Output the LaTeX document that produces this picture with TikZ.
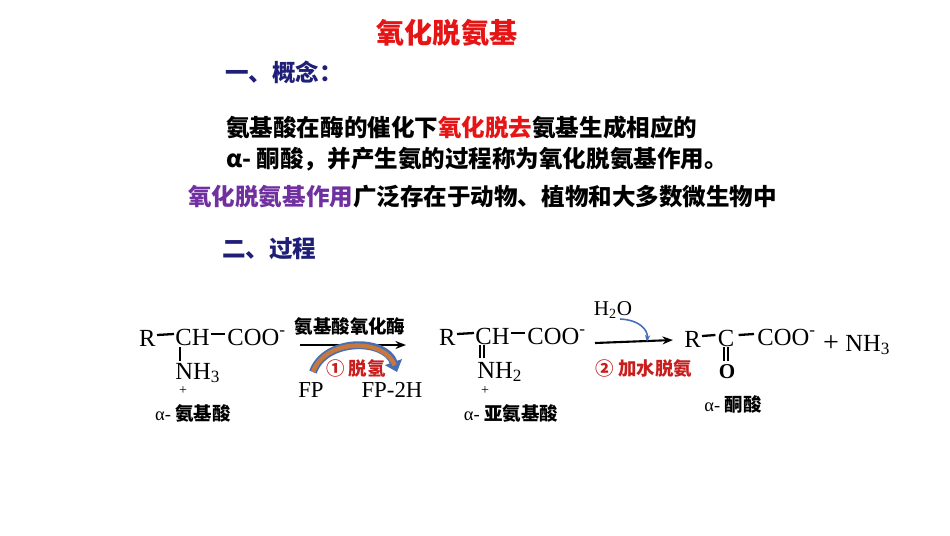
\documentclass[tikz,border=0pt]{standalone}
\usepackage{fontspec}
\setmainfont{Liberation Serif}
\newfontfamily\cjk{Noto Sans CJK SC}
\usetikzlibrary{calc,arrows.meta}
\definecolor{navy}{RGB}{31,31,120}
\definecolor{hired}{RGB}{230,20,20}
\definecolor{dred}{RGB}{200,30,30}
\definecolor{purp}{RGB}{112,48,160}
\definecolor{curvblue}{RGB}{70,110,180}
\definecolor{curvorange}{RGB}{200,120,60}
\tikzset{chem/.style={font=\fontsize{14}{15}\selectfont,inner sep=0pt},
  line/.style={font=\cjk\fontsize{13.4}{15}\selectfont\bfseries,anchor=west,inner sep=0pt},
  lab/.style={font=\fontsize{10.5}{12}\selectfont,inner sep=0pt},
  bond/.style={line width=1.3pt}}
\def\cn{\cjk\bfseries}
\begin{document}
\begin{tikzpicture}[x=0.02cm,y=-0.02cm]
\useasboundingbox (0,0) rectangle (950,535);
% text part
\node[font=\cjk\fontsize{16}{17}\selectfont\bfseries,text=hired] (title) at (447,33) {氧化脱氨基};
\node[line,text=navy] (sec1) at (225,72) {一、概念：};
\node[line] (l1) at (226,128) {氨基酸在酶的催化下\textcolor{hired}{氧化脱去}氨基生成相应的};
\node[line] (l2) at (226,159) {α- 酮酸，并产生氨的过程称为氧化脱氨基作用。};
\node[line] (l3) at (188,197) {\textcolor{purp}{氧化脱氨基作用}广泛存在于动物、植物和大多数微生物中};
\node[line,text=navy] (sec2) at (222,249) {二、过程};

% amino acid
\node[chem,anchor=east] (R1) at (156,338) {R};
\node[chem,anchor=west] (CH1) at (175,337) {CH};
\node[chem,anchor=west] (COO1) at (227,337) {COO\textsuperscript{-}};
\node[chem,anchor=west] (N1) at (175,373) {NH\textsubscript{3}};
\node[chem,font=\footnotesize] (p1) at (183,391) {+};
\draw[bond] ($(R1.east)+(1,-3)$) -- ($(CH1.west)+(-1,-3)$);
\draw[bond] ($(CH1.east)+(1,-3)$) -- ($(COO1.west)+(-2,-3)$);
\draw[bond] (180,347) -- (180,361);
\node[lab] (n1) at (193,413) {α- {\cn 氨基酸}};

% step 1
\coordinate (a1s) at (300,345);
\coordinate (a1e) at (406,345);
\draw[line width=1.2pt,-{Stealth[length=6pt]}] (a1s) -- (a1e);
\node[lab,font=\cn\fontsize{10.5}{12}\selectfont] (enz) at (350,326) {氨基酸氧化酶};
\coordinate (c1s) at (313,372);
\coordinate (c1e) at (397,372);
\draw[curvblue,line width=4.5pt,-{Triangle[length=6pt,width=10pt]}] (c1s) .. controls (325,338) and (385,338) .. (c1e);
\draw[curvorange,line width=2.5pt,shorten >=4pt] (c1s) .. controls (325,338) and (385,338) .. (c1e);
\node[lab,text=dred,font=\cn\fontsize{10.5}{12}\selectfont] (s1) at (356,368) {① 脱氢};
\node[chem,font=\fontsize{13}{13}\selectfont] (fp) at (311,390) {FP};
\node[chem,font=\fontsize{13}{13}\selectfont] (fp2) at (392,390) {FP-2H};

% imino acid
\node[chem,anchor=east] (R2) at (456,337) {R};
\node[chem,anchor=west] (CH2) at (475,336) {CH};
\node[chem,anchor=west] (COO2) at (527,336) {COO\textsuperscript{-}};
\node[chem,anchor=west] (N2) at (477,372) {NH\textsubscript{2}};
\node[chem,font=\footnotesize] (p2) at (485,391) {+};
\draw[bond] ($(R2.east)+(1,-3)$) -- ($(CH2.west)+(-1,-3)$);
\draw[bond] ($(CH2.east)+(1,-3)$) -- ($(COO2.west)+(-2,-3)$);
\draw[line width=1pt] (480,345) -- (480,358) (484,345) -- (484,358);
\node[lab] (n2) at (511,413) {α- {\cn 亚氨基酸}};

% step 2
\coordinate (a2s) at (595,343);
\coordinate (a2e) at (673,340);
\draw[line width=1.2pt,-{Stealth[length=6pt]}] (a2s) -- (a2e);
\node[chem,font=\fontsize{12}{12}\selectfont] (h2o) at (613,310) {H\textsubscript{2}O};
\draw[curvblue,line width=0.9pt,-{Stealth[length=4pt]}] (620,319) .. controls (640,320) and (648,330) .. (647,342);
\node[lab,text=dred,font=\cn\fontsize{10.5}{12}\selectfont] (s2) at (644,368) {② 加水脱氨};

% keto acid
\node[chem,anchor=east] (R3) at (701,339) {R};
\node[chem] (C3) at (726,338) {C};
\node[chem,anchor=west] (COO3) at (757,337) {COO\textsuperscript{-}};
\node[chem,font=\fontsize{12}{12}\selectfont\bfseries] (O3) at (727,372) {O};
\draw[bond] ($(R3.east)+(1,-3)$) -- ($(C3.west)+(-2,-3)$);
\draw[bond] ($(C3.east)+(4,-3)$) -- ($(COO3.west)+(-3,-3)$);
\draw[line width=1pt] (724,347) -- (724,361) (728,347) -- (728,361);
\node[lab] (n3) at (733,404) {α- {\cn 酮酸}};
\node[chem,font=\fontsize{16}{16}\selectfont] (plus) at (831,344) {+};
\node[chem,anchor=west] (nh3) at (845,345) {NH\textsubscript{3}};
\end{tikzpicture}
\end{document}
